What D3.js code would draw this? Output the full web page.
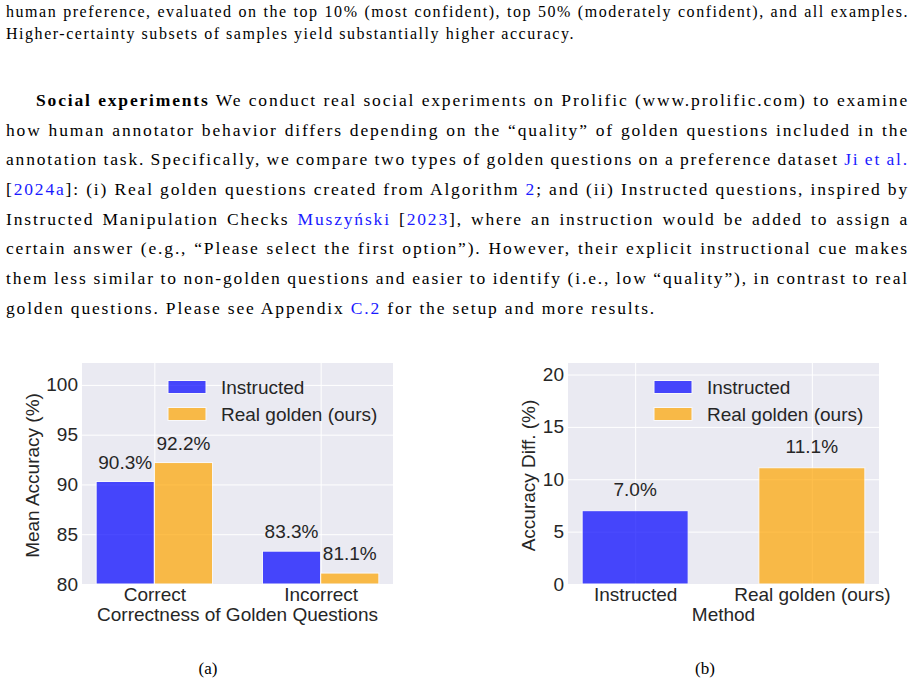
<!DOCTYPE html>
<html>
<head>
<meta charset="utf-8">
<script src="https://cdn.jsdelivr.net/npm/d3@7"></script>
<style>
  body { margin: 0; background: #fff; }
  svg { display: block; }
</style>
</head>
<body>
<svg id="page" width="915" height="686"></svg>
<script>
// ---- chart data ----
const seriesNames = ["Instructed", "Real golden (ours)"];
const seriesColors = ["#0000ff", "#ffa500"];

// (a) mean accuracy by correctness of golden questions
const groupsA = ["Correct", "Incorrect"];
const instructedA = [90.3, 83.3];
const realGoldenA = [92.2, 81.1];
const ticksA = [80, 85, 90, 95, 100];

// (b) accuracy difference by method
const methodsB = ["Instructed", "Real golden (ours)"];
const diffB = [7.0, 11.1];
const ticksB = [0, 5, 10, 15, 20];

// ---- page text ----
const captionLines = [
  [{t: "human preference, evaluated on the top 10% (most confident), top 50% (moderately confident), and all examples."}],
  [{t: "Higher-certainty subsets of samples yield substantially higher accuracy."}]
];
const bodyLines = [
  [{t: "Social experiments", b: true}, {t: " We conduct real social experiments on Prolific (www.prolific.com) to examine"}],
  [{t: "how human annotator behavior differs depending on the \u201cquality\u201d of golden questions included in the"}],
  [{t: "annotation task. Specifically, we compare two types of golden questions on a preference dataset "}, {t: "Ji et al.", l: true}],
  [{t: "["}, {t: "2024a", l: true}, {t: "]: (i) Real golden questions created from Algorithm "}, {t: "2", l: true}, {t: "; and (ii) Instructed questions, inspired by"}],
  [{t: "Instructed Manipulation Checks "}, {t: "Muszy\u0144ski", l: true}, {t: " ["}, {t: "2023", l: true}, {t: "], where an instruction would be added to assign a"}],
  [{t: "certain answer (e.g., \u201cPlease select the first option\u201d). However, their explicit instructional cue makes"}],
  [{t: "them less similar to non-golden questions and easier to identify (i.e., low \u201cquality\u201d), in contrast to real"}],
  [{t: "golden questions. Please see Appendix "}, {t: "C.2", l: true}, {t: " for the setup and more results."}]
];

const serif = "'Liberation Serif', 'Times New Roman', serif";
const sans = "'Liberation Sans', Arial, sans-serif";
const ink = "#262626";
const linkColor = "#1a1aff";
const fs = 19;

const svg = d3.select("#page");
svg.append("rect").attr("width", 915).attr("height", 686).attr("fill", "#fff");

const str = segs => segs.map(s => s.t).join("");

function makeLine(segs, x0, yBase, size) {
  const t = svg.append("text")
    .attr("x", x0)
    .attr("y", yBase)
    .attr("font-family", serif)
    .attr("font-size", size)
    .style("white-space", "pre");
  segs.forEach(s => {
    t.append("tspan")
      .text(s.t)
      .attr("font-weight", s.b ? "bold" : null)
      .attr("fill", s.l ? linkColor : "#000");
  });
  return t;
}

// a paragraph: its last (unjustified) line sets the glyph spacing,
// the other lines stretch their word gaps to reach the right margin
function drawParagraph(lines, size, x0s, ends, baselines) {
  const n = lines.length - 1;
  const lastLine = makeLine(lines[n], x0s[n], baselines[n], size);
  const letterSp = (ends[n] - x0s[n] - lastLine.node().getComputedTextLength()) / str(lines[n]).length;
  lastLine.attr("letter-spacing", letterSp);
  lines.slice(0, n).forEach((segs, i) => {
    const t = makeLine(segs, x0s[i], baselines[i], size).attr("letter-spacing", letterSp);
    const spaces = (str(segs).match(/ /g) || []).length;
    const natural = t.node().getComputedTextLength();
    t.attr("word-spacing", (ends[i] - x0s[i] - natural) / spaces);
  });
}

drawParagraph(captionLines, 16, [6, 6], [909, 575], [17.3, 39.3]);
drawParagraph(
  bodyLines, 17.5,
  bodyLines.map((d, i) => i === 0 ? 36 : 6),
  bodyLines.map((d, i) => i === bodyLines.length - 1 ? 656 : 909),
  bodyLines.map((d, i) => 106 + i * 29.65)
);

function drawPanel(p) {
  const g = svg.append("g");
  const x = d3.scaleLinear().domain(p.xDomain).range([p.left, p.right]);
  const y = d3.scaleLinear().domain(p.yDomain).range([p.bottom, p.top]);

  g.append("rect")
    .attr("x", p.left).attr("y", p.top)
    .attr("width", p.right - p.left).attr("height", p.bottom - p.top)
    .attr("fill", "#eaeaf2");

  const yAxis = g.append("g")
    .attr("transform", `translate(${p.left},0)`)
    .call(d3.axisLeft(y).tickValues(p.yTicks).tickSize(-(p.right - p.left)).tickPadding(4));
  const xAxis = g.append("g")
    .attr("transform", `translate(0,${p.bottom})`)
    .call(d3.axisBottom(x)
      .tickValues(d3.range(p.categories.length))
      .tickFormat(i => p.categories[i])
      .tickSize(-(p.bottom - p.top))
      .tickPadding(3.5));

  [yAxis, xAxis].forEach(a => {
    a.select(".domain").remove();
    a.selectAll("line").attr("stroke", "#fff").attr("stroke-width", 1);
    a.selectAll("text")
      .attr("font-family", sans)
      .attr("font-size", fs)
      .attr("fill", ink);
  });

  const y0 = p.yDomain[0];
  g.append("g")
    .selectAll("rect")
    .data(p.bars)
    .join("rect")
    .attr("x", d => x(d.cx - p.barWidth / 2))
    .attr("width", d => x(d.cx + p.barWidth / 2) - x(d.cx - p.barWidth / 2))
    .attr("y", d => y(d.v))
    .attr("height", d => y(y0) - y(d.v))
    .attr("fill", d => d.color)
    .attr("stroke", "#fff")
    .attr("stroke-width", 1)
    .attr("opacity", 0.7);

  g.append("g")
    .selectAll("text")
    .data(p.bars)
    .join("text")
    .attr("x", d => x(d.cx))
    .attr("y", d => y(d.v + p.labelOffset) - 4)
    .attr("text-anchor", "middle")
    .attr("font-family", sans)
    .attr("font-size", fs)
    .attr("fill", ink)
    .text(d => d3.format(".1f")(d.v) + "%");

  // legend
  const lg = g.append("g");
  seriesNames.forEach((name, k) => {
    const cy = p.top + 24 + k * 27;
    lg.append("rect")
      .attr("x", p.right - 225).attr("y", cy - 6.5)
      .attr("width", 38).attr("height", 13)
      .attr("fill", seriesColors[k])
      .attr("stroke", "#fff").attr("stroke-width", 1)
      .attr("opacity", 0.7);
    lg.append("text")
      .attr("x", p.right - 172).attr("y", cy + 6.8)
      .attr("font-family", sans).attr("font-size", fs).attr("fill", ink)
      .text(name);
  });

  // axis titles
  let minX = Infinity;
  yAxis.selectAll("text").each(function() { minX = Math.min(minX, this.getBBox().x + p.left); });
  g.append("text")
    .attr("transform", `translate(${minX - 7.5},${(p.top + p.bottom) / 2 + 2}) rotate(-90)`)
    .attr("text-anchor", "middle")
    .attr("font-family", sans).attr("font-size", fs).attr("fill", ink)
    .text(p.yLabel);
  g.append("text")
    .attr("x", (p.left + p.right) / 2).attr("y", p.bottom + 37)
    .attr("text-anchor", "middle")
    .attr("font-family", sans).attr("font-size", fs).attr("fill", ink)
    .text(p.xLabel);

  svg.append("text")
    .attr("x", p.subX).attr("y", 674)
    .attr("text-anchor", "middle")
    .attr("font-family", serif).attr("font-size", 17).attr("fill", "#000")
    .text(p.sub);
}

const barsA = [];
groupsA.forEach((c, i) => {
  [instructedA[i], realGoldenA[i]].forEach((v, k) => {
    barsA.push({cx: i + (k - 0.5) * 0.35, v: v, color: seriesColors[k]});
  });
});

drawPanel({
  left: 82, right: 393, top: 363, bottom: 584,
  xDomain: [-0.435, groupsA.length - 1 + 0.435],
  yDomain: [80, d3.max(realGoldenA.concat(instructedA)) + 10],
  yTicks: ticksA,
  categories: groupsA,
  bars: barsA,
  barWidth: 0.35,
  labelOffset: 0.9,
  yLabel: "Mean Accuracy (%)",
  xLabel: "Correctness of Golden Questions",
  sub: "(a)", subX: 208
});

drawPanel({
  left: 568, right: 879, top: 363, bottom: 584,
  xDomain: [-0.38, methodsB.length - 1 + 0.38],
  yDomain: [0, d3.max(diffB) + 10],
  yTicks: ticksB,
  categories: methodsB,
  bars: diffB.map((v, i) => ({cx: i, v: v, color: seriesColors[i]})),
  barWidth: 0.6,
  labelOffset: 1.0,
  yLabel: "Accuracy Diff. (%)",
  xLabel: "Method",
  sub: "(b)", subX: 705
});
</script>
</body>
</html>
